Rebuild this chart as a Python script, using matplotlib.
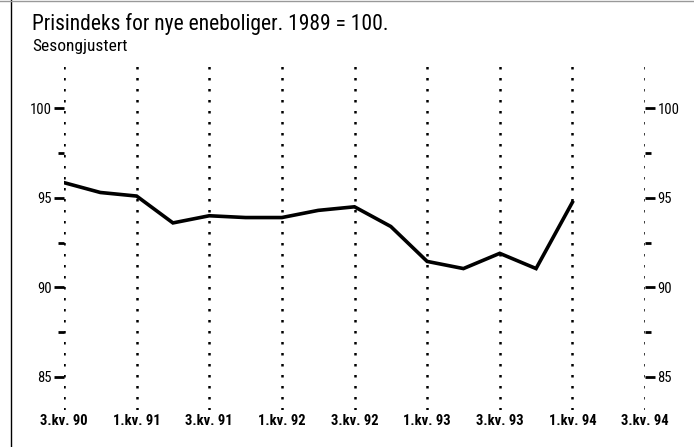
import matplotlib
matplotlib.use("Agg")
import matplotlib.pyplot as plt
from matplotlib.lines import Line2D
from matplotlib import font_manager

names = {f.name for f in font_manager.fontManager.ttflist}
prefs = ["Nimbus Sans Narrow", "Liberation Sans Narrow", "Arial Narrow", "Roboto Condensed",
         "Archivo Narrow", "PT Sans Narrow", "Pragati Narrow", "Liberation Sans"]
narrow = next(p for p in prefs if p in names)

title = "Prisindeks for nye eneboliger. 1989 = 100."
subtitle = "Sesongjustert"
tick_labels = ["3.kv. 90", "1.kv. 91", "3.kv. 91", "1.kv. 92", "3.kv. 92",
               "1.kv. 93", "3.kv. 93", "1.kv. 94", "3.kv. 94"]
# quarterly values from 3rd quarter 1990 to 1st quarter 1994
values = [95.85, 95.3, 95.1, 93.6, 94.0, 93.9, 93.9, 94.3, 94.5,
          93.4, 91.45, 91.05, 91.9, 91.05, 94.75]
major_y = [85, 90, 95, 100]
minor_y = [87.5, 92.5, 97.5]

fig = plt.figure(figsize=(6.94, 4.47), dpi=100)
ax = fig.add_axes([64/694, 1-410/447, (645-64)/694, (410-60)/447])
ax.set_xlim(0, 16)
ax.set_ylim(83.15, 102.7)
for s in ax.spines.values():
    s.set_visible(False)

xs = list(range(len(values)))
ax.plot(xs, values, color="black", lw=2.6, solid_joinstyle="miter", zorder=3)

tick_pos = list(range(0, 17, 2))
for x in tick_pos:
    ax.axvline(x, color="black", lw=1.8, linestyle=(0, (1, 3.4)), zorder=2)

ax.set_xticks(tick_pos)
ax.set_xticklabels(tick_labels, fontfamily=narrow, fontweight="bold", fontsize=10.5)
ax.tick_params(axis="x", length=0, pad=3)

ax.set_yticks(major_y)
ax.set_yticks(minor_y, minor=True)
ax.set_yticklabels([str(v) for v in major_y], fontfamily=narrow, fontsize=10.5)
ax.tick_params(axis="y", which="major", length=7, width=2, pad=2,
               left=True, right=True, labelleft=True, labelright=True, direction="out")
ax.tick_params(axis="y", which="minor", length=4, width=2, pad=2,
               left=True, right=True, direction="out")

fig.text(32/694, 1-30/447, title, fontfamily=narrow, fontsize=15.5, va="baseline", ha="left")
fig.text(32/694, 1-51/447, subtitle, fontfamily=narrow, fontsize=12.5, va="baseline", ha="left")

fig.add_artist(Line2D([11/694, 11/694], [0, 1], transform=fig.transFigure, color="black", lw=1))
fig.add_artist(Line2D([0, 1], [1-1/447, 1-1/447], transform=fig.transFigure, color="#999999", lw=1))

fig.savefig("out.png", dpi=100)
